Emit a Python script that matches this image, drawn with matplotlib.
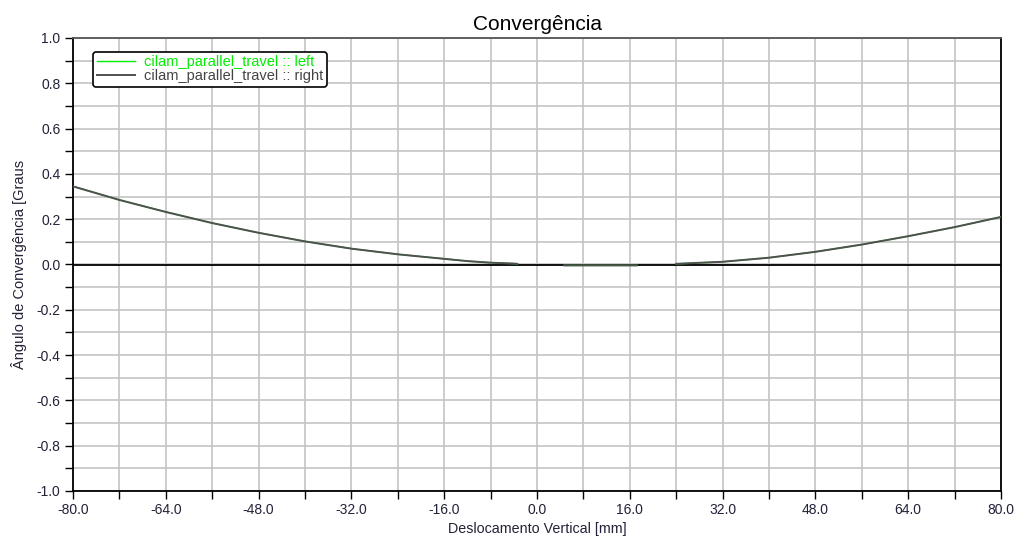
import numpy as np
import matplotlib
matplotlib.use("Agg")
import matplotlib.pyplot as plt
from matplotlib.ticker import MultipleLocator, FormatStrFormatter

plt.rcParams['font.family'] = ['Liberation Sans', 'DejaVu Sans']

nan = np.nan
# Vertical displacement [mm] (NaN = gap in curve)
x_mm = [-80, -72, -64, -56, -48, -40, -32, -24, -16, -12, -8, -4, -3.4, nan,
        4.7, 10, 17.2, nan,
        24, 32, 40, 48, 56, 64, 72, 80]
# Convergence angle [deg]
left_deg = [0.345, 0.285, 0.232, 0.183, 0.140, 0.102, 0.070, 0.045, 0.025, 0.015, 0.008, 0.004, 0.003, nan,
            -0.004, -0.004, -0.004, nan,
            0.003, 0.012, 0.030, 0.056, 0.088, 0.125, 0.165, 0.210]
right_deg = [0.345, 0.285, 0.232, 0.183, 0.140, 0.102, 0.070, 0.045, 0.025, 0.015, 0.008, 0.004, 0.003, nan,
             -0.004, -0.004, -0.004, nan,
             0.003, 0.012, 0.030, 0.056, 0.088, 0.125, 0.165, 0.210]
series_names = ["cilam_parallel_travel :: left", "cilam_parallel_travel :: right"]

W, H = 1015, 538
fig = plt.figure(figsize=(W / 100, H / 100), dpi=100)
ax = fig.add_axes([73 / W, (H - 491) / H, 928 / W, 453 / H])

ax.set_xlim(-80, 80)
ax.set_ylim(-1.0, 1.0)
ax.xaxis.set_major_locator(MultipleLocator(16))
ax.xaxis.set_minor_locator(MultipleLocator(8))
ax.yaxis.set_major_locator(MultipleLocator(0.2))
ax.yaxis.set_minor_locator(MultipleLocator(0.1))
ax.xaxis.set_major_formatter(FormatStrFormatter('%.1f'))
ax.yaxis.set_major_formatter(FormatStrFormatter('%.1f'))

ax.grid(True, which='both', color='#c4c4c4', lw=1.2, zorder=0)
ax.set_axisbelow(True)
tick_color = '#222238'
ax.tick_params(which='both', direction='out', length=6, width=1.0, color='black',
               labelsize=10, labelcolor=tick_color, pad=3)

for s in ['left', 'bottom', 'right']:
    ax.spines[s].set_color('black')
    ax.spines[s].set_linewidth(1.3)
ax.spines['top'].set_color('#555555')
ax.spines['top'].set_linewidth(1.3)

ax.axhline(0, color='black', lw=1.3, zorder=2)

l1, = ax.plot(x_mm, left_deg, color='#00ee00', lw=1.0, zorder=3, label=series_names[0])
l2, = ax.plot(x_mm, right_deg, color='#505050', lw=1.4, zorder=4, label=series_names[1])

ax.set_title('Convergência', fontsize=15, color='black', pad=6)
ax.set_xlabel('Deslocamento Vertical [mm]', fontsize=10.3, color=tick_color, labelpad=3)
ax.set_ylabel('Ângulo de Convergência [Graus', fontsize=10.5, color=tick_color)
ax.yaxis.set_label_coords(-0.050, 0.5)

leg = ax.legend(handles=[l1, l2], loc='upper left', bbox_to_anchor=(0.022, 0.97),
                fontsize=10.5, frameon=True, fancybox=True, edgecolor='black',
                framealpha=1, handlelength=2.6, labelspacing=0.0, borderpad=0.25,
                handletextpad=0.6, borderaxespad=0.0)
leg.get_frame().set_linewidth(1.2)
for t, c in zip(leg.get_texts(), ['#00ee00', '#444444']):
    t.set_color(c)

fig.savefig('out.png', dpi=100)
